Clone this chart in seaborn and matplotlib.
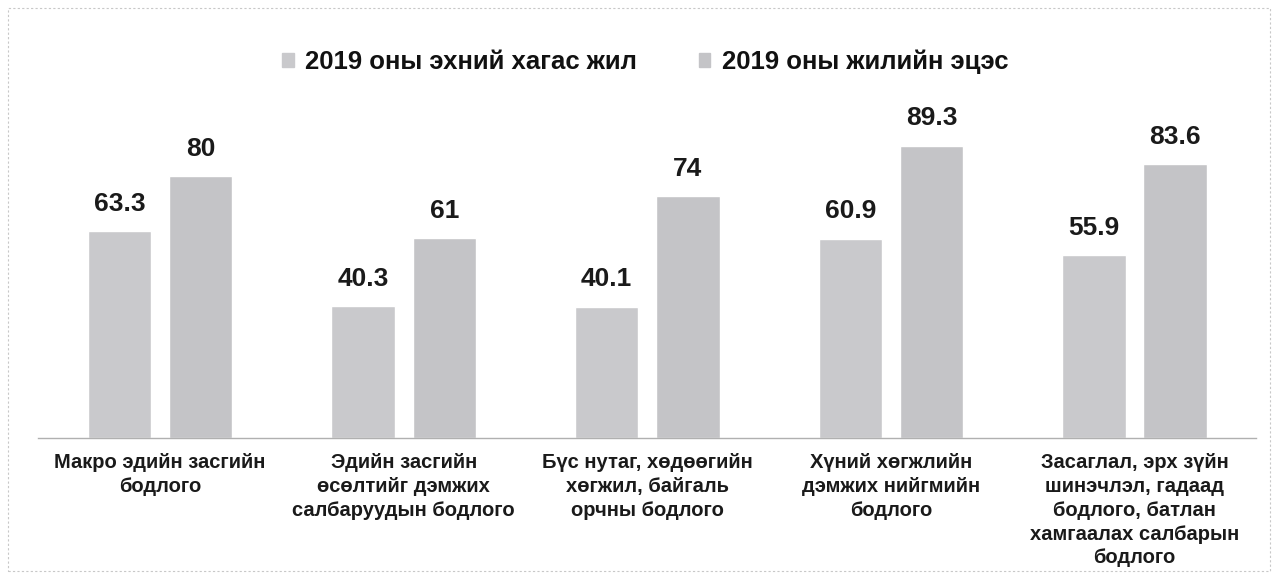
import pandas as pd
import seaborn as sns
import matplotlib.pyplot as plt
from matplotlib.patches import Rectangle

categories = [
    "Макро эдийн засгийн\nбодлого",
    "Эдийн засгийн\nөсөлтийг дэмжих\nсалбаруудын бодлого",
    "Бүс нутаг, хөдөөгийн\nхөгжил, байгаль\nорчны бодлого",
    "Хүний хөгжлийн\nдэмжих нийгмийн\nбодлого",
    "Засаглал, эрх зүйн\nшинэчлэл, гадаад\nбодлого, батлан\nхамгаалах салбарын\nбодлого",
]
series_names = ["2019 оны эхний хагас жил", "2019 оны жилийн эцэс"]
first_half = [63.3, 40.3, 40.1, 60.9, 55.9]
year_end = [80, 61, 74, 89.3, 83.6]

df = pd.DataFrame({
    "category": categories * 2,
    "period": [series_names[0]] * 5 + [series_names[1]] * 5,
    "value": first_half + year_end,
})

sns.set_theme(style="white")
plt.rcParams["font.family"] = ["Liberation Sans", "DejaVu Sans"]

fig = plt.figure(figsize=(12.78, 5.87), dpi=100)
ax = fig.add_axes([0.030, 0.254, 0.953, 0.68])

colors = ["#c9c9cc", "#c4c4c7"]
sns.barplot(data=df, x="category", y="value", hue="period", palette=colors,
            width=0.667, gap=0.22, ax=ax, legend=False)

for cont in ax.containers:
    labels = [f"{v:g}" for v in cont.datavalues]
    ax.bar_label(cont, labels=labels, padding=11, fontsize=19,
                 fontweight="bold", color="#1a1a1a")

ax.set_ylim(0, 122)
ax.set_xlim(-0.5, 4.5)
ax.set_xlabel("")
ax.set_ylabel("")
ax.set_yticks([])
for s in ["top", "right", "left"]:
    ax.spines[s].set_visible(False)
ax.spines["bottom"].set_color("#b0b0b0")
ax.spines["bottom"].set_linewidth(1.0)
ax.tick_params(axis="x", length=0, pad=11)
for t in ax.get_xticklabels():
    t.set_fontsize(14.5)
    t.set_fontweight("bold")
    t.set_color("#1a1a1a")
    t.set_linespacing(1.32)
    t.set_va("top")

# legend
handles = [Rectangle((0, 0), 1, 1, color=c) for c in colors]
fig.legend(handles, series_names, loc="center", bbox_to_anchor=(0.505, 0.894),
           ncol=2, frameon=False,
           prop={"size": 18.5, "weight": "bold"}, labelcolor="#111111",
           handlelength=0.45, handleheight=0.45, handletextpad=0.45,
           columnspacing=2.4)

# outer dashed frame
fig.patches.append(Rectangle((0.006, 0.028), 0.988, 0.958, transform=fig.transFigure,
                             fill=False, edgecolor="#c8c8c8", linestyle=(0, (2, 2)),
                             linewidth=0.8))

fig.savefig("out.png", dpi=100)
